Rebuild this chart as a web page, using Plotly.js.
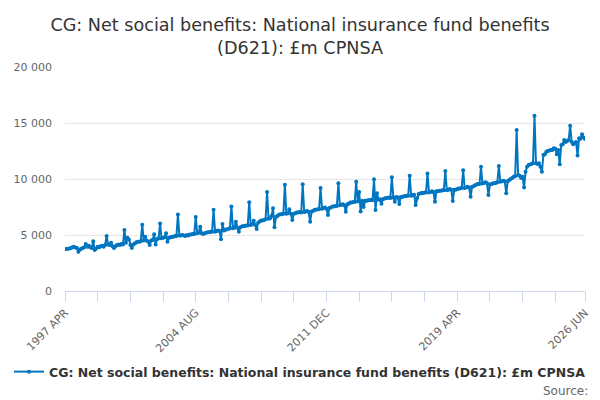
<!DOCTYPE html>
<html>
<head>
<meta charset="utf-8">
<script src="https://cdn.plot.ly/plotly-3.0.1.min.js"></script>
<style>
html,body{margin:0;padding:0;background:#fff;}
#chart{width:600px;height:400px;}
</style>
</head>
<body>
<div id="chart"></div>
<script>
// Monthly series, 1997 APR .. 2026 JUN (values in £m)
var startYear = 1997;
var startMonth = 3; // 0-based: APR
var monthNames = ['JAN','FEB','MAR','APR','MAY','JUN','JUL','AUG','SEP','OCT','NOV','DEC'];

var values = [
  /*1997 Apr-Dec*/ 3740,3750,3780,3800,3850,3900,3960,3880,3850,
  /*1998*/ 3500,3700,3780,3850,3900,4200,3950,4050,3900,3850,4450,3650,
  /*1999*/ 3800,3950,3900,4000,4050,3950,4100,4900,4150,4100,4300,4000,
  /*2000*/ 3850,4000,4100,4150,4100,4200,4150,5450,4300,4750,4600,4100,
  /*2001*/ 3850,4150,4250,4350,4400,4400,4450,5920,4500,4850,4500,4400,
  /*2002*/ 4100,4500,4550,5060,4150,4650,4700,6030,4700,4750,4800,5150,
  /*2003*/ 4400,4750,4800,4850,4850,4900,4900,6830,4950,4950,5000,4950,
  /*2004*/ 4900,5000,4950,5050,5050,5100,5100,6600,5150,5200,5740,5150,
  /*2005*/ 5100,5150,5200,5250,5250,5300,5300,7250,5300,5350,5400,5350,
  /*2006*/ 4630,5980,5400,5500,5500,5550,5600,7550,5600,5650,6190,5650,
  /*2007*/ 5300,5700,5750,5800,5800,5850,5850,7930,5900,5950,6270,5900,
  /*2008*/ 5540,6100,6200,6300,6300,6350,6400,8830,6450,6500,6700,7380,
  /*2009*/ 5690,6600,6700,6800,6850,6850,6900,9480,6900,6950,7300,6900,
  /*2010*/ 6340,6900,6950,7000,7000,7050,7000,9530,7050,7100,7150,7050,
  /*2011*/ 6190,7100,7150,7250,7250,7300,7300,9190,7350,7400,7450,7350,
  /*2012*/ 6790,7400,7450,7550,7550,7600,7600,9610,7650,7700,7750,7650,
  /*2013*/ 7080,7750,7800,7900,7900,7950,7950,9760,8000,8850,7100,8050,
  /*2014*/ 7500,8050,8050,8100,8100,8150,8100,9970,7230,8720,8150,8200,
  /*2015*/ 7800,8200,8250,8300,8300,8350,8300,10150,8350,7970,8400,8350,
  /*2016*/ 7770,8400,8400,8450,8450,8500,8500,10300,8500,8550,8600,7680,
  /*2017*/ 8300,8650,8700,8750,8750,8800,8800,10500,8800,8850,8900,8850,
  /*2018*/ 7970,8900,8900,8950,8950,9000,9000,10710,9000,9050,9100,9050,
  /*2019*/ 8040,9050,9050,9100,9150,9150,9200,10790,9200,9250,9300,9250,
  /*2020*/ 8420,9300,9350,9450,9500,9550,9550,11090,9600,9650,9700,9650,
  /*2021*/ 8570,9500,9550,9600,9650,9650,9700,11160,9750,9800,9850,9800,
  /*2022*/ 8720,9800,9900,10000,10100,10200,10250,14380,10360,10300,10100,10200,
  /*2023*/ 9230,10650,11100,11250,11300,11350,11400,15650,11400,11350,11400,11100,
  /*2024*/ 10650,12150,12200,12440,12500,12550,12590,12600,12740,12700,12200,12600,
  /*2025*/ 11310,13040,13100,13480,13300,13400,13480,14760,13330,13100,13200,13300,
  /*2026 Jan-Jun*/ 12090,13640,13600,13990,13700,13570
];

var tickLabels = ['1997 APR','2004 AUG','2011 DEC','2019 APR','2026 JUN'];
var seriesName = 'CG: Net social benefits: National insurance fund benefits (D621): £m CPNSA';
var chartTitle = 'CG: Net social benefits: National insurance fund benefits<br>(D621): £m CPNSA';

// month labels for each point
var categories = [];
var xIdx = [];
for (var i = 0; i < values.length; i++) {
  var m = startMonth + i;
  categories.push((startYear + Math.floor(m / 12)) + ' ' + monthNames[m % 12]);
  xIdx.push(i);
}
var last = values.length - 1;

// tick positions: every 22 months plus the final month; label every 4th
var tickVals = [], tickText = [];
for (var t = 0; t < last - 10; t += 22) {
  tickVals.push(t);
  tickText.push(tickLabels.indexOf(categories[t]) >= 0 ? categories[t] : '');
}
tickVals.push(last);
tickText.push(categories[last]);

var font = 'DejaVu Sans, sans-serif';
var blue = '#0075c0';

var trace = {
  x: xIdx,
  y: values,
  text: categories,
  type: 'scatter',
  mode: 'lines+markers',
  name: seriesName,
  line: {color: blue, width: 2},
  marker: {color: blue, size: 4},
  hovertemplate: '%{text}: %{y}<extra></extra>'
};

var layout = {
  width: 600,
  height: 400,
  margin: {l: 65, r: 15, t: 67, b: 109},
  paper_bgcolor: '#ffffff',
  plot_bgcolor: '#ffffff',
  separators: '. ',
  font: {family: font, color: '#666666', size: 11},
  title: {
    text: chartTitle,
    font: {family: font, size: 17.6, color: '#333333'},
    x: 0.5, xanchor: 'center', xref: 'container',
    y: 0.923, yanchor: 'middle', yref: 'container'
  },
  showlegend: true,
  legend: {
    orientation: 'h',
    xref: 'container', yref: 'container',
    x: 0.5, xanchor: 'center',
    y: 0.07, yanchor: 'middle',
    font: {family: font, size: 12.5, color: '#333333', weight: 'bold'},
    itemwidth: 30
  },
  xaxis: {
    type: 'linear',
    range: [0, last],
    tickmode: 'array',
    tickvals: tickVals,
    ticktext: tickText,
    tickangle: -45,
    ticks: 'outside',
    ticklen: 10,
    tickcolor: '#ccd6eb',
    showline: true,
    linecolor: '#ccd6eb',
    linewidth: 1,
    showgrid: false,
    zeroline: false,
    automargin: false,
    tickfont: {family: font, size: 11, color: '#666666'}
  },
  yaxis: {
    range: [0, 20000],
    tickmode: 'array',
    tickvals: [0, 5000, 10000, 15000, 20000],
    separatethousands: true,
    tickformat: ',d',
    showgrid: true,
    gridcolor: '#e6e6e6',
    zeroline: false,
    showline: false,
    ticks: '',
    automargin: false,
    ticklabelstandoff: 12,
    tickfont: {family: font, size: 11, color: '#666666'}
  },
  annotations: [{
    text: 'Source:',
    xref: 'paper', yref: 'paper',
    x: 1.01, xanchor: 'right',
    y: -0.445, yanchor: 'middle',
    showarrow: false,
    font: {family: font, size: 12, color: '#666666'}
  }]
};

Plotly.newPlot('chart', [trace], layout, {displayModeBar: false, staticPlot: true});
</script>
</body>
</html>
